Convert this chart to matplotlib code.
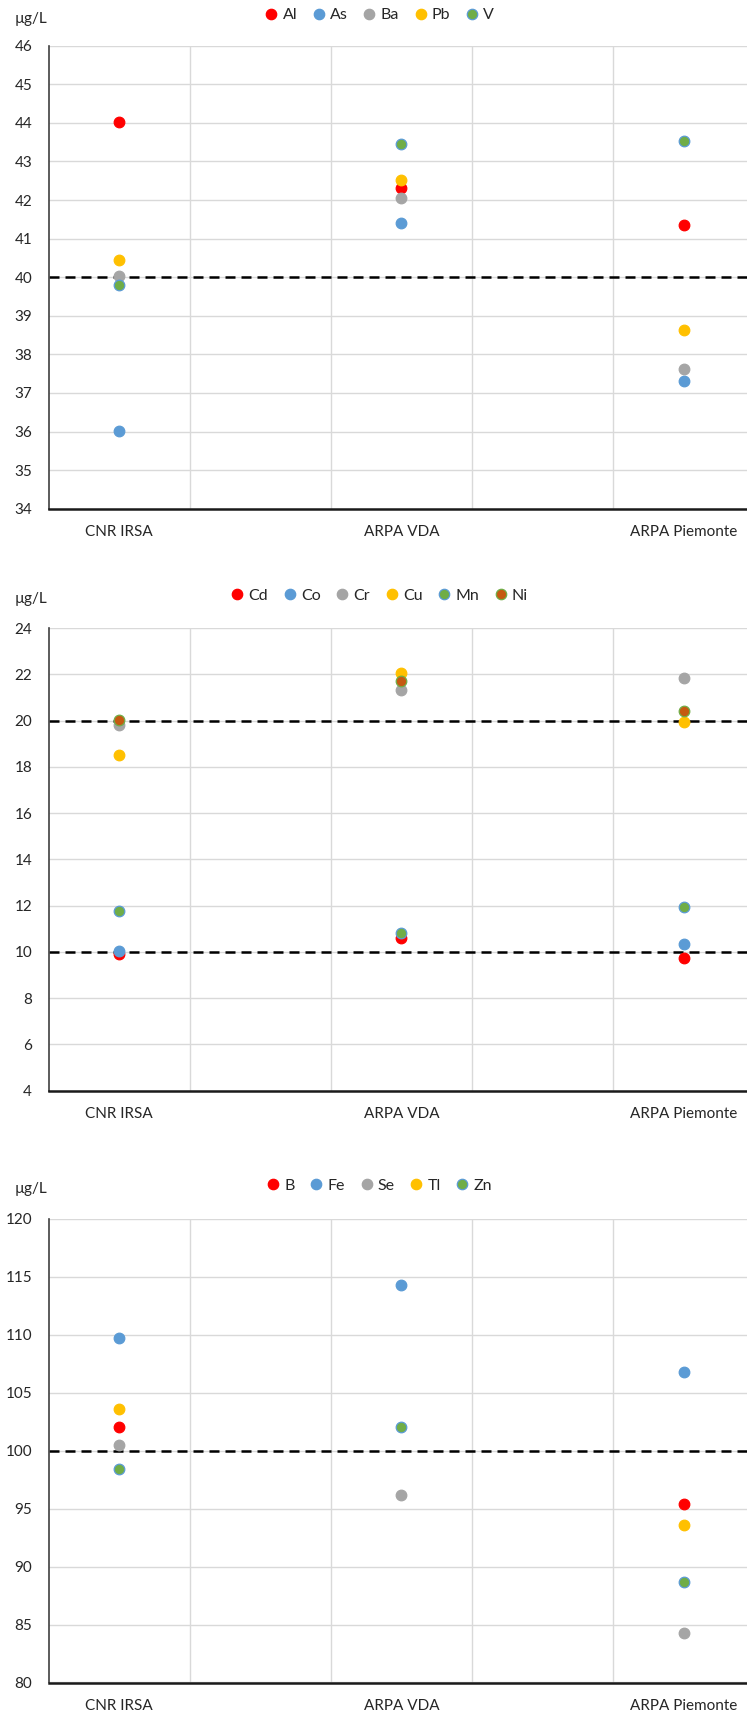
import numpy as np
import matplotlib
matplotlib.use("Agg")
import matplotlib.pyplot as plt
from matplotlib.lines import Line2D

plt.rcParams['font.family'] = ['Lato', 'DejaVu Sans']

# Laboratories (x categories)
labs = ["CNR IRSA", "ARPA VDA", "ARPA Piemonte"]
lab_x = [0.5, 2.5, 4.5]

# Panel 1: reference value 40 µg/L
p1_names = ["Al", "As", "Ba", "Pb", "V"]
Al = [44.03, 42.31, 41.34]
As = [36.02, 41.41, 37.32]
Ba = [40.03, 42.06, 37.63]
Pb = [40.45, 42.52, 38.64]
V = [39.80, 43.44, 43.53]
p1_ref = [40]
p1_ticks = [34, 35, 36, 37, 38, 39, 40, 41, 42, 43, 44, 45, 46]

# Panel 2: reference values 10 and 20 µg/L
p2_names = ["Cd", "Co", "Cr", "Cu", "Mn", "Ni"]
Cd = [9.93, 10.60, 9.73]
Co = [10.05, np.nan, 10.34]
Cr = [19.83, 21.33, 21.83]
Cu = [18.52, 22.05, 19.94]
Mn = [11.79, 10.82, 11.94]
Ni = [20.05, 21.72, 20.41]
p2_ref = [10, 20]
p2_ticks = [4, 6, 8, 10, 12, 14, 16, 18, 20, 22, 24]

# Panel 3: reference value 100 µg/L
p3_names = ["B", "Fe", "Se", "Tl", "Zn"]
B = [102.06, np.nan, 95.37]
Fe = [109.75, 114.27, 106.77]
Se = [100.53, 96.19, 84.25]
Tl = [103.57, np.nan, 93.57]
Zn = [98.42, 102.06, 88.65]
p3_ref = [100]
p3_ticks = [80, 85, 90, 95, 100, 105, 110, 115, 120]

RED, BLUE, GRAY, GOLD, GREEN, BROWN = "#FF0000", "#5B9BD5", "#A5A5A5", "#FFC000", "#70AD47", "#C55A11"
fills = [RED, BLUE, GRAY, GOLD, GREEN, BROWN]
edges = [RED, BLUE, GRAY, GOLD, BLUE, GREEN]

W, H = 747, 1718
fig = plt.figure(figsize=(W / 100, H / 100), dpi=100)

TXT = "#262626"
FS = 11

panels = [
    (p1_names, [Al, As, Ba, Pb, V], p1_ref, p1_ticks, 45.7, 508.7, 15.0, 18.5),
    (p2_names, [Cd, Co, Cr, Cu, Mn, Ni], p2_ref, p2_ticks, 628.2, 1090.7, 595.5, 599.0),
    (p3_names, [B, Fe, Se, Tl, Zn], p3_ref, p3_ticks, 1218.9, 1682.5, 1185.7, 1189.0),
]

left = 48.7
for names, series, refs, ticks, top, bottom, leg_y, unit_y in panels:
    ax = fig.add_axes([left / W, 1 - bottom / H, (W - left) / W, (bottom - top) / H])
    ax.set_xlim(0, (W - left) / 141.1)
    ax.set_ylim(ticks[0], ticks[-1])
    ax.set_yticks(ticks)
    ax.set_xticks(lab_x)
    ax.set_xticklabels(labs)
    ax.set_xticks([1, 2, 3, 4], minor=True)
    ax.grid(True, which="major", axis="y", color="#D9D9D9", lw=1.0)
    ax.grid(True, which="minor", axis="x", color="#D9D9D9", lw=1.0)
    ax.set_axisbelow(True)
    ax.tick_params(axis="both", which="both", length=0, labelsize=FS, colors=TXT)
    ax.tick_params(axis="y", pad=12)
    ax.tick_params(axis="x", pad=12)
    for s in ("top", "right"):
        ax.spines[s].set_visible(False)
    ax.spines["left"].set_color("#404040")
    ax.spines["left"].set_linewidth(1.2)
    ax.spines["bottom"].set_color("#1a1a1a")
    ax.spines["bottom"].set_linewidth(1.8)

    for r in refs:
        ax.axhline(r, color="black", lw=1.8, dashes=(4, 2.4), zorder=2)

    handles = []
    for i, (nm, vals) in enumerate(zip(names, series)):
        ax.scatter(lab_x, vals, s=58, color=fills[i], edgecolors=edges[i],
                   linewidths=0.9, zorder=3 + i, clip_on=False)
        handles.append(Line2D([], [], ls="none", marker="o", ms=7.5,
                              mfc=fills[i], mec=edges[i], mew=0.9, label=nm))

    fig.legend(handles=handles, loc="center", bbox_to_anchor=(0.508, 1 - leg_y / H),
               ncol=len(names), frameon=False, fontsize=FS + 0.5,
               handlelength=0.8, handletextpad=0.3, columnspacing=0.95,
               borderaxespad=0, borderpad=0, labelcolor=TXT)
    fig.text(15 / W, 1 - unit_y / H, "µg/L", fontsize=FS, color=TXT,
             ha="left", va="center")

fig.savefig("out.png", dpi=100)
